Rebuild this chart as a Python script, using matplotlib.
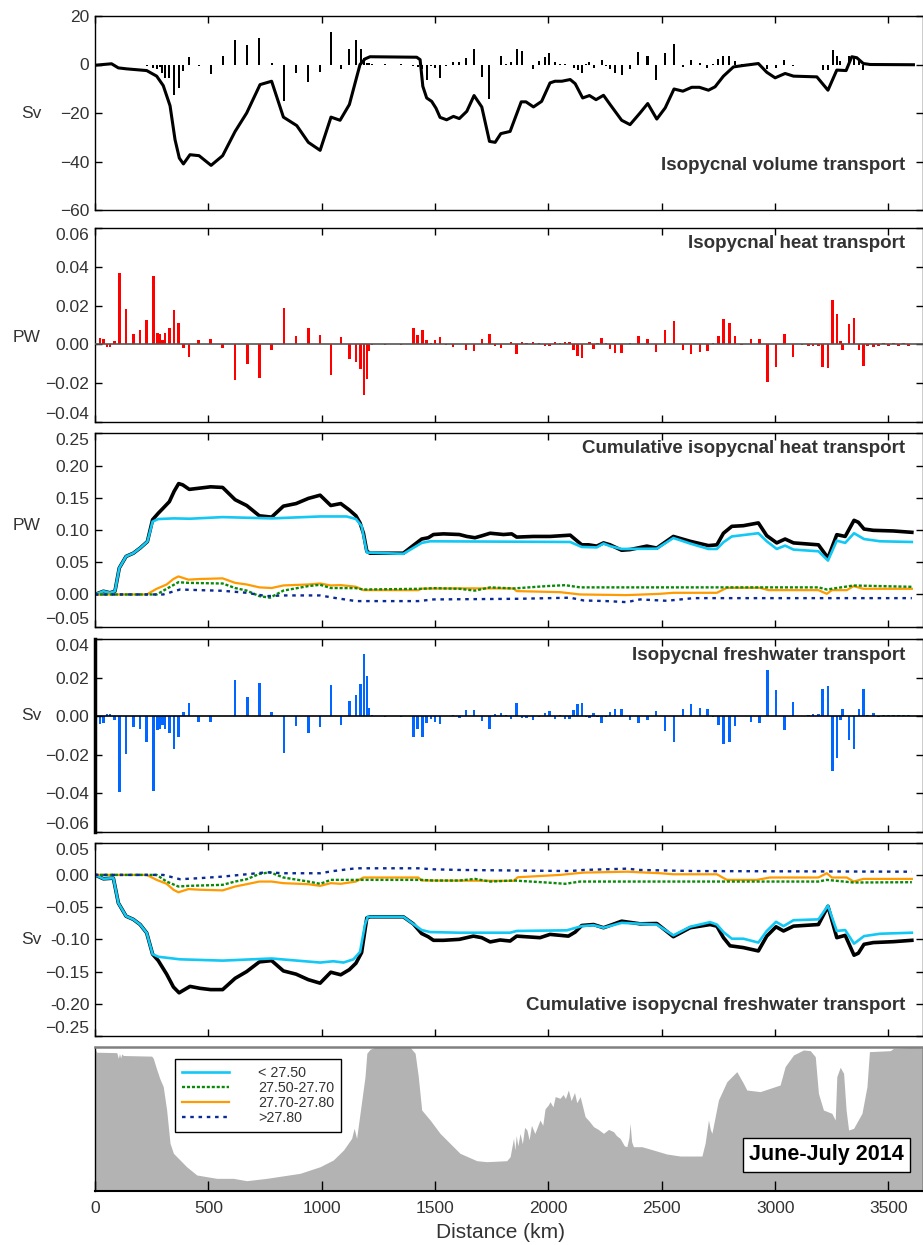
import matplotlib
matplotlib.use('Agg')
import matplotlib.pyplot as plt
from matplotlib.lines import Line2D

plt.rcParams['font.family'] = ['Liberation Sans', 'DejaVu Sans']

# station positions (km) shared by the three bar panels
station_km = [
    22, 38, 52, 67, 85, 107, 137, 169, 199, 228,
    257, 275, 287, 297, 309, 328, 349, 369, 390, 415,
    457, 510, 563, 618, 672, 725, 779, 834, 887, 941,
    993, 1041, 1084, 1122, 1151, 1172, 1187, 1199, 1209, 1221,
    1279, 1350, 1404, 1423, 1444, 1463, 1482, 1500, 1522, 1549,
    1578, 1607, 1637, 1672, 1706, 1740, 1765, 1790, 1812, 1835,
    1860, 1883, 1904, 1931, 1958, 1985, 2004, 2029, 2051, 2073,
    2092, 2111, 2129, 2147, 2166, 2181, 2199, 2217, 2235, 2254,
    2272, 2294, 2323, 2360, 2397, 2437, 2475, 2515, 2554, 2593,
    2629, 2669, 2701, 2725, 2750, 2772, 2798, 2823, 2852, 2893,
    2931, 2966, 3004, 3041, 3078, 3118, 3147, 3166, 3191, 3210,
    3233, 3254, 3272, 3288, 3298, 3326, 3348, 3370, 3389, 3407,
    3433, 3455, 3478, 3500, 3522, 3544, 3566, 3588]

vol_bar = [
    -0.2, -0.2, -0.1, -0.2, -0.3, -0.3, -0.3, -0.3, -0.4, -0.5,
    -1.4, -2.0, -1.2, -3.4, -5.5, -5.5, -12.4, -9.7, -2.8, 3.2,
    -0.7, -4.1, 3.4, 10.0, 7.9, 11.0, 0.7, -15.2, -3.7, -7.3,
    -3.2, 13.4, -2.0, 6.5, 10.0, 6.2, 2.8, 0.7, 0.5, 0.3,
    0.2, 0.2, -0.5, -1.0, -2.0, -6.2, -0.5, -1.4, -5.5, -0.7,
    1.1, 1.0, 2.8, 6.2, -5.1, -14.2, -0.4, 3.4, 0.4, 1.0,
    6.5, 5.5, -0.2, -1.8, 1.4, 3.2, 4.6, 1.0, 0.4, 0.3,
    -0.4, -1.4, -2.3, -3.4, 0.3, 1.0, -1.4, -0.3, 1.7, -0.5,
    -2.0, -3.7, -4.5, -2.0, 5.2, 3.7, -6.5, 4.6, 8.3, -1.1,
    1.7, 0.5, -1.4, 0.3, 2.3, 3.7, 3.4, 1.4, 0.3, 0.5,
    0.4, -2.0, -1.4, 2.0, -0.5, -0.3, -0.3, -0.3, -0.4, -2.3,
    -2.3, 5.9, 3.7, 1.4, -0.3, 3.4, 3.4, 1.4, -2.3, 0.1,
    0.1, 0.1, 0.1, 0.1, 0.1, 0.1, 0.1, 0.1]

heat_bar = [
    0.0034, 0.0028, -0.0014, -0.0014, 0.0017, 0.0369, 0.0181, 0.0052, 0.0072, 0.0124,
    0.0353, 0.0059, 0.0052, 0.0024, 0.0060, 0.0086, 0.0176, 0.0110, -0.0017, -0.0066,
    0.0021, 0.0028, -0.0017, -0.0186, -0.0103, -0.0172, -0.0028, 0.0190, 0.0045, 0.0084,
    0.0047, -0.0160, 0.0040, -0.0078, -0.0091, -0.0129, -0.0260, -0.0178, -0.0036, -0.0005,
    -0.0003, -0.0003, 0.0086, 0.0050, 0.0076, 0.0024, 0.0009, 0.0022, 0.0038, -0.0002,
    -0.0014, 0.0003, -0.0028, -0.0034, 0.0026, 0.0055, -0.0010, -0.0017, 0.0000, 0.0012,
    -0.0052, 0.0014, 0.0007, 0.0010, 0.0007, -0.0010, -0.0010, 0.0014, 0.0005, 0.0014,
    0.0010, -0.0028, -0.0062, -0.0069, 0.0000, 0.0010, -0.0022, 0.0009, 0.0034, 0.0007,
    -0.0022, -0.0045, -0.0045, 0.0009, 0.0041, 0.0029, -0.0040, 0.0072, 0.0119, -0.0031,
    -0.0052, -0.0040, -0.0034, 0.0007, 0.0041, 0.0133, 0.0110, 0.0041, -0.0003, 0.0026,
    0.0026, -0.0195, -0.0117, 0.0055, -0.0066, -0.0003, -0.0007, -0.0007, -0.0010, -0.0117,
    -0.0121, 0.0231, 0.0159, 0.0017, -0.0031, 0.0103, 0.0136, -0.0028, -0.0114, -0.0007,
    -0.0014, -0.0009, 0.0007, -0.0007, 0.0005, -0.0008, 0.0006, -0.0007]

fw_bar = [
    -0.0038, -0.0033, 0.0014, 0.0014, -0.0017, -0.0395, -0.0197, -0.0055, -0.0064, -0.0132,
    -0.0390, -0.0069, -0.0064, -0.0046, -0.0067, -0.0089, -0.0170, -0.0110, 0.0022, 0.0069,
    -0.0029, -0.0029, 0.0003, 0.0189, 0.0100, 0.0172, 0.0024, -0.0189, -0.0050, -0.0089,
    -0.0055, 0.0163, -0.0046, 0.0079, 0.0108, 0.0168, 0.0326, 0.0210, 0.0043, 0.0005,
    -0.0005, -0.0003, -0.0110, -0.0064, -0.0110, -0.0034, -0.0012, -0.0031, -0.0041, 0.0003,
    0.0009, -0.0009, 0.0031, 0.0031, -0.0024, -0.0065, 0.0010, 0.0017, 0.0005, -0.0012,
    0.0069, -0.0007, -0.0007, -0.0017, -0.0005, 0.0017, 0.0027, -0.0012, 0.0005, -0.0012,
    -0.0012, 0.0031, 0.0065, 0.0069, -0.0003, -0.0010, 0.0019, -0.0005, -0.0034, -0.0005,
    0.0022, 0.0039, 0.0039, -0.0017, -0.0034, -0.0021, 0.0026, -0.0076, -0.0132, 0.0039,
    0.0065, 0.0043, 0.0038, -0.0005, -0.0046, -0.0146, -0.0134, -0.0052, 0.0003, -0.0029,
    -0.0033, 0.0240, 0.0137, -0.0069, 0.0074, 0.0003, 0.0005, 0.0010, 0.0014, 0.0143,
    0.0155, -0.0287, -0.0215, -0.0017, 0.0036, -0.0124, -0.0170, 0.0038, 0.0143, 0.0005,
    0.0017, -0.0003, 0.0007, 0.0005, 0.0007, 0.0004, 0.0007, 0.0005]

assert len(station_km) == len(vol_bar) == len(heat_bar) == len(fw_bar)

# cumulative volume transport (Sv)
vol_cum_km = [0, 73, 103, 140, 228, 272, 301, 331, 353, 372, 390, 419, 459, 512, 563, 618,
              669, 728, 779, 831, 890, 941, 993, 1041, 1081, 1122, 1169, 1191, 1213, 1419,
              1434, 1446, 1463, 1485, 1504, 1522, 1551, 1581, 1607, 1640, 1672, 1706, 1740,
              1765, 1790, 1831, 1880, 1901, 1934, 1970, 2007, 2029, 2059, 2096, 2118, 2151,
              2181, 2210, 2243, 2272, 2323, 2360, 2404, 2438, 2478, 2515, 2554, 2593, 2632,
              2666, 2706, 2735, 2772, 2816, 2860, 2926, 2963, 3000, 3044, 3081, 3184, 3233,
              3272, 3313, 3338, 3360, 3389, 3419, 3610]
vol_cum_sv = [-0.3, 0.3, -1.4, -1.8, -2.5, -4.8, -8.7, -17.0, -31.0, -38.6, -41.0, -37.2, -37.6,
              -41.6, -37.6, -27.6, -20.0, -8.3, -6.9, -21.7, -25.2, -32.1, -35.4, -21.7, -23.0,
              -16.5, 0.0, 2.3, 3.2, 3.0, 2.0, -9.0, -13.8, -15.2, -18.0, -21.8, -22.8, -21.4,
              -22.3, -19.3, -12.8, -17.5, -31.7, -32.1, -28.5, -27.6, -15.4, -15.4, -17.5, -15.2,
              -7.6, -6.9, -6.9, -6.2, -7.9, -13.8, -12.8, -14.5, -12.7, -16.5, -23.0, -24.8,
              -20.0, -16.1, -22.5, -17.9, -10.1, -11.0, -9.4, -9.4, -10.6, -9.2, -4.8, -1.0,
              -0.4, 0.4, -3.2, -5.5, -3.7, -4.8, -5.1, -10.6, -2.3, -2.5, 3.2, 2.8, 0.4, 0.0, -0.1]

# cumulative heat transport (PW)
heat_tot_km = [0, 37, 66, 88, 107, 137, 169, 199, 231, 254, 279, 301, 328, 349, 369, 387, 416,
               463, 510, 563, 618, 669, 725, 779, 831, 887, 941, 993, 1040, 1084, 1122, 1151,
               1169, 1184, 1199, 1213, 1360, 1404, 1441, 1470, 1493, 1537, 1607, 1640, 1676,
               1706, 1743, 1802, 1838, 1860, 1934, 2007, 2096, 2147, 2177, 2213, 2243, 2272,
               2323, 2360, 2434, 2478, 2551, 2625, 2706, 2743, 2772, 2809, 2860, 2926, 2963,
               3007, 3044, 3081, 3191, 3233, 3272, 3309, 3348, 3367, 3392, 3433, 3522, 3603]
heat_tot = [0.0, 0.005, 0.0026, 0.005, 0.041, 0.059, 0.064, 0.072, 0.082, 0.116, 0.126, 0.134,
            0.144, 0.160, 0.172, 0.170, 0.163, 0.165, 0.167, 0.166, 0.147, 0.138, 0.122, 0.120,
            0.137, 0.141, 0.149, 0.154, 0.138, 0.141, 0.131, 0.122, 0.111, 0.095, 0.067, 0.064,
            0.064, 0.076, 0.086, 0.088, 0.093, 0.094, 0.093, 0.090, 0.088, 0.091, 0.095, 0.093,
            0.094, 0.089, 0.090, 0.090, 0.092, 0.077, 0.077, 0.075, 0.080, 0.077, 0.0686,
            0.0696, 0.075, 0.072, 0.090, 0.0825, 0.0758, 0.077, 0.095, 0.1057, 0.1067, 0.111,
            0.0912, 0.080, 0.086, 0.080, 0.077, 0.0567, 0.0928, 0.090, 0.115, 0.112, 0.1015,
            0.0995, 0.0985, 0.0964]
heat_c1_km = [0, 37, 66, 88, 107, 137, 169, 199, 231, 254, 279, 346, 419, 563, 779, 993, 1110,
              1151, 1176, 1199, 1360, 1441, 1478, 2096, 2147, 2213, 2243, 2272, 2323, 2478, 2551,
              2625, 2706, 2743, 2772, 2809, 2926, 2963, 3007, 3044, 3081, 3191, 3233, 3272, 3309,
              3348, 3392, 3463, 3603]
heat_c1 = [0.0, 0.005, 0.0026, 0.005, 0.041, 0.059, 0.064, 0.072, 0.082, 0.113, 0.117, 0.118,
           0.1175, 0.120, 0.118, 0.121, 0.121, 0.117, 0.106, 0.065, 0.063, 0.080, 0.0825, 0.0814,
           0.0737, 0.073, 0.079, 0.075, 0.0706, 0.071, 0.0876, 0.079, 0.0706, 0.0706, 0.081,
           0.090, 0.095, 0.0825, 0.0706, 0.0758, 0.0696, 0.067, 0.0526, 0.0835, 0.080, 0.095,
           0.086, 0.0825, 0.0814]
heat_c3_km = [0, 228, 272, 316, 346, 368, 412, 463, 563, 618, 669, 725, 779, 831, 941, 993, 1040,
              1084, 1151, 1184, 1426, 1441, 1607, 1846, 1860, 2051, 2140, 2346, 2493, 2551, 2743,
              2787, 2934, 2971, 3191, 3228, 3250, 3316, 3346, 3389, 3603]
heat_c3 = [0.0, 0.0, 0.0088, 0.0155, 0.024, 0.028, 0.023, 0.024, 0.025, 0.018, 0.0155, 0.011,
           0.010, 0.014, 0.0155, 0.017, 0.014, 0.0145, 0.012, 0.0067, 0.0067, 0.009, 0.0095,
           0.0093, 0.0052, 0.0036, 0.0, -0.001, 0.001, 0.0026, 0.0026, 0.0103, 0.0103, 0.0067,
           0.0067, 0.001, 0.0067, 0.0067, 0.0129, 0.0088, 0.0088]
heat_c2_km = [0, 272, 316, 368, 412, 563, 618, 669, 725, 772, 831, 941, 993, 1040, 1151, 1184,
              1441, 1493, 1607, 1676, 1743, 1846, 1993, 2074, 2140, 3191, 3228, 3346, 3603]
heat_c2 = [0.0, 0.0, 0.0088, 0.019, 0.018, 0.017, 0.010, 0.006, -0.0026, -0.005, 0.006, 0.013,
           0.015, 0.010, 0.0098, 0.0077, 0.0088, 0.0098, 0.0088, 0.006, 0.011, 0.0093, 0.013,
           0.0144, 0.011, 0.011, 0.0077, 0.0139, 0.0119]
heat_c4_km = [0, 301, 375, 463, 563, 669, 757, 831, 993, 1051, 1151, 1426, 1493, 1869, 2096,
              2155, 2257, 2346, 2404, 2522, 2640, 3603]
heat_c4 = [0.0, 0.0, 0.0077, 0.0067, 0.0057, 0.0026, -0.0026, -0.0015, -0.0015, -0.005, -0.0103,
           -0.0103, -0.0077, -0.0067, -0.005, -0.0093, -0.0103, -0.0119, -0.0077, -0.0098,
           -0.0057, -0.0057]

# cumulative freshwater transport (Sv)
fw_tot_km = [0, 37, 81, 103, 137, 169, 199, 228, 254, 279, 316, 346, 371, 390, 419, 463, 510,
             563, 618, 669, 725, 779, 831, 887, 941, 993, 1040, 1084, 1122, 1151, 1176, 1199,
             1213, 1360, 1404, 1441, 1470, 1493, 1537, 1607, 1669, 1706, 1743, 1787, 1831, 1860,
             1963, 2007, 2088, 2118, 2147, 2199, 2243, 2323, 2404, 2478, 2551, 2625, 2713, 2743,
             2772, 2801, 2860, 2926, 2963, 3004, 3037, 3081, 3191, 3233, 3272, 3309, 3348, 3367,
             3392, 3433, 3522, 3603]
fw_tot = [0.0, -0.006, -0.005, -0.0436, -0.064, -0.069, -0.077, -0.090, -0.123, -0.133, -0.154,
          -0.174, -0.183, -0.179, -0.173, -0.176, -0.178, -0.178, -0.1605, -0.150, -0.135,
          -0.133, -0.149, -0.154, -0.1626, -0.168, -0.151, -0.155, -0.147, -0.137, -0.1205,
          -0.0667, -0.065, -0.065, -0.076, -0.091, -0.096, -0.1015, -0.1015, -0.100, -0.095,
          -0.0974, -0.104, -0.101, -0.1026, -0.095, -0.0974, -0.0923, -0.095, -0.0887, -0.0785,
          -0.077, -0.082, -0.0718, -0.0759, -0.0754, -0.0959, -0.082, -0.077, -0.0795, -0.0974,
          -0.110, -0.1128, -0.118, -0.095, -0.0805, -0.087, -0.0795, -0.077, -0.0487, -0.0974,
          -0.0938, -0.1246, -0.1215, -0.1077, -0.105, -0.1036, -0.1015]
fw_c1_km = [0, 37, 81, 103, 137, 169, 199, 228, 254, 279, 375, 563, 779, 993, 1051, 1096, 1140,
            1169, 1191, 1203, 1360, 1441, 1478, 1607, 1831, 1860, 2081, 2147, 2199, 2243, 2323,
            2478, 2551, 2625, 2713, 2743, 2772, 2809, 2860, 2926, 2963, 3004, 3037, 3081, 3191,
            3233, 3272, 3309, 3348, 3392, 3463, 3603]
fw_c1 = [0.0, -0.006, -0.005, -0.0436, -0.064, -0.069, -0.077, -0.090, -0.123, -0.127, -0.131,
         -0.133, -0.1297, -0.136, -0.134, -0.136, -0.131, -0.1195, -0.077, -0.065, -0.065,
         -0.0856, -0.0887, -0.0897, -0.0897, -0.087, -0.086, -0.0795, -0.078, -0.082, -0.0744,
         -0.077, -0.0938, -0.0805, -0.0733, -0.077, -0.0887, -0.099, -0.099, -0.105, -0.087,
         -0.0728, -0.0795, -0.0703, -0.069, -0.0477, -0.087, -0.0856, -0.1067, -0.095, -0.0913,
         -0.0897]
fw_c3_km = [0, 228, 272, 316, 346, 368, 412, 463, 563, 618, 669, 725, 779, 831, 941, 993, 1040,
            1084, 1151, 1184, 1426, 1441, 1846, 1865, 2051, 2155, 2346, 2493, 2551, 2743, 2787,
            2919, 2978, 3191, 3228, 3250, 3316, 3346, 3389, 3603]
fw_c3 = [0.0, 0.0, -0.0077, -0.0138, -0.023, -0.027, -0.022, -0.023, -0.024, -0.018, -0.0144,
         -0.0103, -0.0103, -0.0128, -0.0144, -0.017, -0.0128, -0.0138, -0.0103, -0.004, -0.004,
         -0.0087, -0.0092, -0.0036, 0.0, 0.0036, 0.005, 0.0026, 0.001, 0.001, -0.0077, -0.0077,
         -0.004, -0.004, 0.0026, -0.004, -0.004, -0.0103, -0.0062, -0.0062]
fw_c2_km = [0, 272, 316, 368, 412, 563, 618, 669, 725, 772, 831, 941, 993, 1040, 1441, 1493,
            1607, 1676, 1743, 1846, 1993, 2074, 2140, 3191, 3228, 3346, 3603]
fw_c2 = [0.0, 0.0, -0.0103, -0.018, -0.017, -0.0154, -0.0103, -0.0067, 0.0015, 0.0041, -0.004,
         -0.0103, -0.0138, -0.0077, -0.0077, -0.0087, -0.0087, -0.0062, -0.0103, -0.0087,
         -0.0118, -0.0138, -0.0103, -0.0103, -0.0077, -0.0118, -0.0113]
fw_c4_km = [0, 301, 375, 463, 563, 669, 757, 831, 993, 1051, 1151, 1426, 1493, 1607, 2096, 2155,
            2346, 2404, 2640, 3603]
fw_c4 = [0.0, 0.0, -0.0067, -0.005, -0.0026, 0.001, 0.0041, 0.0026, 0.0026, 0.006, 0.0103,
         0.0103, 0.0087, 0.0077, 0.006, 0.0077, 0.0097, 0.0077, 0.006, 0.005]

# bottom depth (m) along the section
bathy_km = [0, 7, 96, 103, 108, 113, 118, 125, 250, 257, 270, 285, 301, 316, 331, 346, 404, 449,
            537, 610, 669, 757, 904, 993, 1051, 1096, 1132, 1143, 1154, 1169, 1191, 1199, 1213,
            1235, 1390, 1412, 1426, 1441, 1478, 1522, 1566, 1610, 1684, 1728, 1816, 1831, 1846,
            1852, 1858, 1865, 1875, 1885, 1895, 1905, 1915, 1925, 1940, 1963, 1975, 1985, 2000,
            2007, 2020, 2030, 2051, 2065, 2075, 2088, 2100, 2115, 2125, 2140, 2162, 2180, 2199,
            2220, 2243, 2265, 2287, 2300, 2316, 2335, 2346, 2355, 2360, 2367, 2375, 2412, 2463,
            2522, 2581, 2677, 2691, 2706, 2714, 2721, 2750, 2787, 2831, 2860, 2875, 2934, 3022,
            3044, 3081, 3125, 3155, 3177, 3191, 3213, 3250, 3265, 3272, 3287, 3302, 3313, 3324,
            3346, 3383, 3405, 3416, 3508, 3522, 3610, 3650]
bathy_m = [25, 120, 130, 270, 150, 260, 160, 200, 215, 268, 500, 750, 958, 1527, 2340, 2582, 2908,
           3110, 3192, 3192, 3249, 3192, 3070, 2908, 2745, 2502, 2218, 1974, 2218, 1608, 715, 146,
           49, 0, 0, 146, 715, 1527, 1771, 2096, 2340, 2582, 2762, 2786, 2762, 2665, 2218, 2500,
           2150, 2400, 2100, 2350, 1950, 2015, 2250, 1900, 2100, 1771, 1900, 1500, 1400, 1324,
           1450, 1200, 1243, 1150, 1250, 1040, 1300, 1100, 1350, 1202, 1690, 1800, 1933, 2000,
           2096, 2000, 2055, 2150, 2218, 2400, 2421, 2200, 1852, 2300, 2421, 2421, 2502, 2599,
           2648, 2648, 2340, 1771, 2000, 2096, 1283, 837, 593, 877, 1040, 1080, 918, 471, 187,
           65, 82, 228, 1121, 1527, 1608, 1771, 715, 487, 634, 1527, 2015, 1974, 1608, 958, 106,
           82, 25, 0, 0]

layer_labels = ['< 27.50', '27.50-27.70', '27.70-27.80', '>27.80']
x_ticks = [0, 500, 1000, 1500, 2000, 2500, 3000, 3500]

CYAN = '#12C8F5'
GREEN = '#0A8A0A'
ORANGE = '#FF9A00'
NAVY = '#0A2A96'
TXT = '#333333'
green_ls = (0, (1.3, 0.8))
navy_ls = (0, (1.5, 2.0))

W, H = 923, 1245
fig = plt.figure(figsize=(W / 100, H / 100), dpi=100)

def make_ax(top, bottom):
    ax = fig.add_axes([95 / W, 1 - bottom / H, 827.5 / W, (bottom - top) / H])
    ax.set_xlim(0, 3650)
    ax.set_xticks(x_ticks)
    ax.tick_params(direction='in', top=True, right=True, length=5, width=1,
                   labelsize=12.5, labelcolor=TXT, pad=4)
    ax.tick_params(axis='x', labelbottom=False)
    for s in ax.spines.values():
        s.set_linewidth(1.0)
    return ax

def tuck_end_labels(ax):
    # keep the outermost y labels inside the panel, as in the original
    labels = ax.get_yticklabels()
    labels[0].set_va('bottom')
    labels[-1].set_va('top')

def panel_title(ax, y, text):
    ax.text(0.979, y, text, transform=ax.transAxes, ha='right', va='center',
            fontsize=13.5, fontweight='bold', color=TXT)

def side_label(x, y, text):
    fig.text(x / W, 1 - y / H, text, ha='center', va='center', fontsize=12.5, color=TXT)

# 1: isopycnal volume transport
ax1 = make_ax(16, 210)
ax1.bar(station_km, vol_bar, width=9, color='k', linewidth=0)
ax1.plot(vol_cum_km, vol_cum_sv, color='k', lw=2.2)
ax1.set_ylim(-60, 20)
ax1.set_yticks([-60, -40, -20, 0, 20], ['\u221260', '\u221240', '\u221220', '0', '20'])
panel_title(ax1, 0.228, 'Isopycnal volume transport')
side_label(31, 113, 'Sv')

# 2: isopycnal heat transport
ax2 = make_ax(228.3, 421.7)
ax2.bar(station_km, heat_bar, width=11, color='#FF0000', linewidth=0)
ax2.axhline(0, color='#555555', lw=1.2, zorder=3)
ax2.set_ylim(-0.04, 0.06)
ax2.set_yticks([-0.04, -0.02, 0, 0.02, 0.04, 0.06],
               ['\u22120.04', '\u22120.02', '0.00', '0.02', '0.04', '0.06'])
tuck_end_labels(ax2)
panel_title(ax2, 0.922, 'Isopycnal heat transport')
side_label(27, 338, 'PW')

# 3: cumulative isopycnal heat transport
ax3 = make_ax(433.3, 626.7)
ax3.plot(heat_tot_km, heat_tot, color='k', lw=2.6)
ax3.plot(heat_c1_km, heat_c1, color=CYAN, lw=1.9)
ax3.plot(heat_c3_km, heat_c3, color=ORANGE, lw=1.6)
ax3.plot(heat_c2_km, heat_c2, color=GREEN, lw=1.7, linestyle=green_ls)
ax3.plot(heat_c4_km, heat_c4, color=NAVY, lw=1.7, linestyle=navy_ls)
ax3.set_ylim(-0.05, 0.25)
ax3.set_yticks([-0.05, 0, 0.05, 0.1, 0.15, 0.2, 0.25],
               ['\u22120.05', '0.00', '0.05', '0.10', '0.15', '0.20', '0.25'])
tuck_end_labels(ax3)
panel_title(ax3, 0.922, 'Cumulative isopycnal heat transport')
side_label(27, 525, 'PW')

# 4: isopycnal freshwater transport
ax4 = make_ax(639.3, 831.7)
ax4.bar(station_km, fw_bar, width=11, color='#0066FF', linewidth=0)
ax4.axhline(0, color='k', lw=1.2, zorder=3)
ax4.set_ylim(-0.06, 0.04)
ax4.set_yticks([-0.06, -0.04, -0.02, 0, 0.02, 0.04],
               ['\u22120.06', '\u22120.04', '\u22120.02', '0.00', '0.02', '0.04'])
tuck_end_labels(ax4)
ax4.spines['left'].set_linewidth(2.5)
panel_title(ax4, 0.918, 'Isopycnal freshwater transport')
side_label(31.7, 715.7, 'Sv')

# 5: cumulative isopycnal freshwater transport
ax5 = make_ax(842.7, 1036)
ax5.plot(fw_tot_km, fw_tot, color='k', lw=2.6)
ax5.plot(fw_c1_km, fw_c1, color=CYAN, lw=1.9)
ax5.plot(fw_c3_km, fw_c3, color=ORANGE, lw=1.6)
ax5.plot(fw_c2_km, fw_c2, color=GREEN, lw=1.7, linestyle=green_ls)
ax5.plot(fw_c4_km, fw_c4, color=NAVY, lw=1.7, linestyle=navy_ls)
ax5.set_ylim(-0.25, 0.05)
ax5.set_yticks([-0.25, -0.2, -0.15, -0.1, -0.05, 0, 0.05],
               ['\u22120.25', '-0.20', '\u22120.15', '-0.10', '\u22120.05', '0.00', '0.05'])
tuck_end_labels(ax5)
panel_title(ax5, 0.16, 'Cumulative isopycnal freshwater transport')
side_label(31.7, 940, 'Sv')

# 6: bathymetry
ax6 = fig.add_axes([95 / W, 1 - 1191 / H, 827.5 / W, (1191 - 1047.3) / H])
ax6.fill_between(bathy_km, bathy_m, 3500, color='#B3B3B3', linewidth=0)
ax6.set_xlim(0, 3650)
ax6.set_ylim(3500, 0)
ax6.set_xticks(x_ticks)
ax6.set_yticks([])
ax6.tick_params(axis='x', direction='in', length=7, width=1, labelsize=12.5,
                labelcolor=TXT, pad=7)
for s in ax6.spines.values():
    s.set_linewidth(1.0)
ax6.spines['bottom'].set_linewidth(1.5)
ax6.spines['top'].set_color('#808080')
ax6.spines['top'].set_linewidth(1.8)

handles = [Line2D([], [], color=CYAN, lw=1.9),
           Line2D([], [], color=GREEN, lw=1.7, linestyle=green_ls),
           Line2D([], [], color=ORANGE, lw=1.6),
           Line2D([], [], color=NAVY, lw=1.7, linestyle=navy_ls)]
leg = ax6.legend(handles, layer_labels, loc='upper left', bbox_to_anchor=(0.0967, 0.9165),
                 borderaxespad=0, fontsize=10.3, handlelength=3.3, handletextpad=2.0,
                 labelspacing=0.05, borderpad=0.5, frameon=True, fancybox=False,
                 edgecolor='black', framealpha=1)
leg.get_frame().set_linewidth(1.0)
for t in leg.get_texts():
    t.set_color(TXT)

ax6.text(0.884, 0.2526, 'June-July 2014', transform=ax6.transAxes, ha='center', va='center',
         fontsize=15.5, fontweight='bold', color='black',
         bbox=dict(boxstyle='square,pad=0.3', fc='white', ec='black', lw=1.0))

fig.text(500.5 / W, 1 - 1233 / H, 'Distance (km)', ha='center', va='center',
         fontsize=15, color=TXT)

fig.savefig('out.png', dpi=100)
